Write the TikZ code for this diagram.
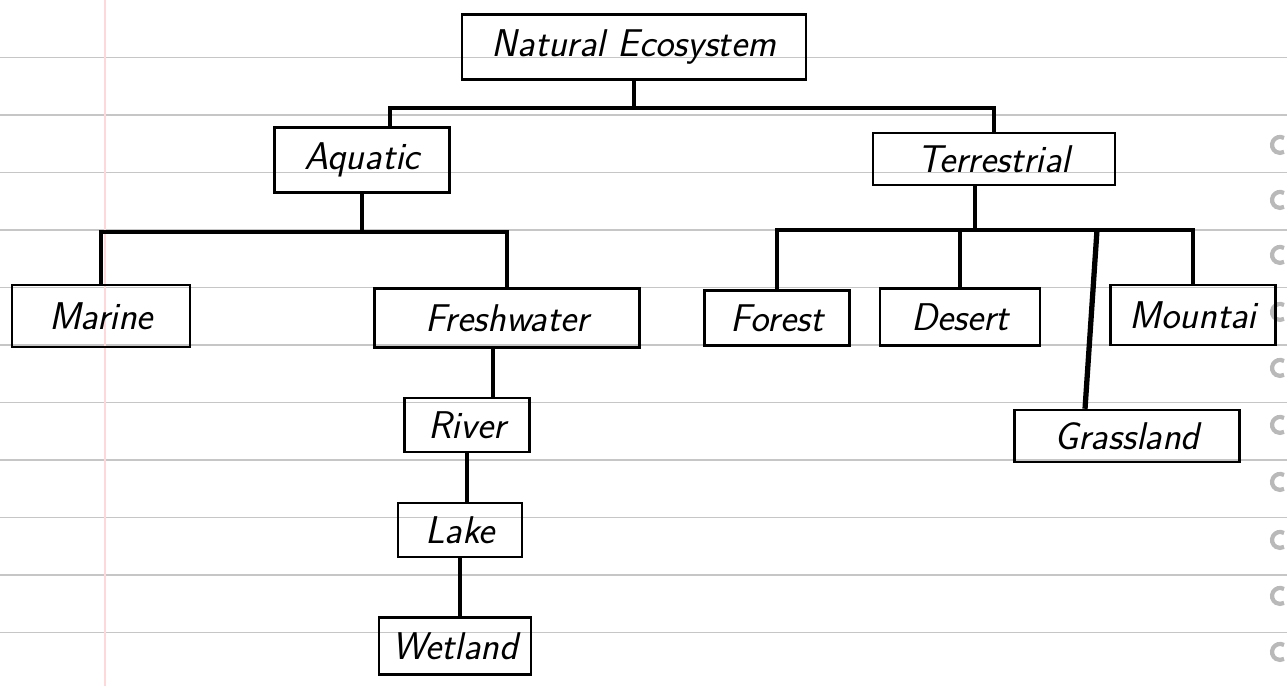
\documentclass[tikz,border=0pt]{standalone}
\usepackage{amsmath}
\usepackage{tikz}
\usetikzlibrary{positioning}
\tikzset{
  box/.style={draw,line width=1.4pt,inner sep=2pt,font=\fontsize{22}{25}\selectfont\sffamily\itshape},
  link/.style={line width=2.2pt},
  ruling/.style={gray!45,line width=0.6pt}
}

\begin{document}
\begin{tikzpicture}[x=0.02cm,y=-0.02cm]
		\useasboundingbox (0,0) rectangle (1287,686);
		% ruled paper
		\foreach \k in {1,...,11}
			\draw[ruling] (0,57.5*\k) -- (1287,57.5*\k);
		\draw[red!15,line width=0.6pt] (105,0) -- (105,686);
		\foreach \h in {145,200,255,312,368,425,482,540,596,652}
			\draw[gray!55,line width=2.4pt] (1284,\h-7) arc[start angle=60,end angle=300,radius=0.16cm];

		\node[box,minimum width=6.88cm,minimum height=1.3cm] (eco) at (634,47) {Natural Ecosystem};
		\node[box,minimum width=3.5cm,minimum height=1.3cm] (aqua) at (362,160) {Aquatic};
		\node[box,minimum width=4.84cm,minimum height=1.04cm] (terr) at (994,159) {Terrestrial};
		\node[box,minimum width=3.56cm,minimum height=1.24cm] (marine) at (101,316) {Marine};
		\node[box,minimum width=5.3cm,minimum height=1.18cm] (fresh) at (507,318) {Freshwater};
		\node[box,minimum width=2.9cm,minimum height=1.1cm] (forest) at (777,318) {Forest};
		\node[box,minimum width=3.2cm,minimum height=1.14cm] (desert) at (960,317) {Desert};
		\node[box,minimum width=3.3cm,minimum height=1.2cm] (mount) at (1193,315) {Mountai};
		\node[box,minimum width=4.5cm,minimum height=1.04cm] (grass) at (1127,436) {Grassland};
		\node[box,minimum width=2.5cm,minimum height=1.08cm] (river) at (467,425) {River};
		\node[box,minimum width=2.48cm,minimum height=1.08cm] (lake) at (460,530) {Lake};
		\node[box,minimum width=3.04cm,minimum height=1.14cm] (wet) at (455,646) {Wetland};

		% branch points
		\coordinate (topbar) at (626,108);
		\coordinate (aqbar) at (353,232);
		\coordinate (tebar) at (975,230);
		\coordinate (grtop) at (1097,230);

		\draw[link] (eco.south) -- (eco.south |- topbar);
		\draw[link] ([xshift=0.56cm]aqua.north) |- (topbar) -| (terr.north);
		\draw[link] (aqua.south) -- (aqua.south |- aqbar);
		\draw[link] (marine.north) |- (aqbar) -| (fresh.north);
		\draw[link] (terr.south -| tebar) -- (tebar);
		\draw[link] (forest.north) |- (tebar) -| (mount.north);
		\draw[link] (desert.north) -- (desert.north |- tebar);
		\draw[link,line width=3pt] (grtop) -- ([xshift=-0.84cm]grass.north);
		\draw[link] ([xshift=0.52cm]river.north) -- ([xshift=0.52cm]river.north |- fresh.south);
		\draw[link] (river.south) -- (river.south |- lake.north);
		\draw[link] (lake.south) -- (lake.south |- wet.north);
\end{tikzpicture}
\end{document}
